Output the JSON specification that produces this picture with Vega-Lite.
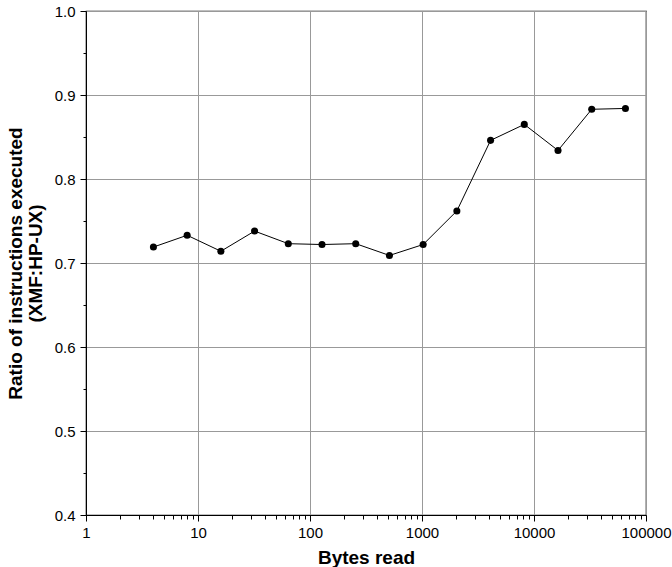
{
  "$schema": "https://vega.github.io/schema/vega-lite/v6.json",
  "autosize": "none",
  "padding": {"left": 86, "top": 11, "right": 26, "bottom": 52},
  "width": 560,
  "height": 504,
  "background": "white",
  "config": {
    "font": "Liberation Sans",
    "view": {"stroke": "black", "strokeWidth": 1.2},
    "axis": {"labelFont": "Liberation Sans", "titleFont": "Liberation Sans", "labelColor": "black", "titleColor": "black", "domainColor": "black", "tickColor": "black", "gridColor": "#999999", "gridWidth": 1, "labelFontSize": 15, "titleFontSize": 19, "titleFontWeight": "bold", "titleLineHeight": 20}
  },
  "data": {
    "values": [
      {"bytes": 4, "ratio": 0.719},
      {"bytes": 8, "ratio": 0.733},
      {"bytes": 16, "ratio": 0.714},
      {"bytes": 32, "ratio": 0.738},
      {"bytes": 64, "ratio": 0.723},
      {"bytes": 128, "ratio": 0.722},
      {"bytes": 256, "ratio": 0.723},
      {"bytes": 512, "ratio": 0.709},
      {"bytes": 1024, "ratio": 0.722},
      {"bytes": 2048, "ratio": 0.762},
      {"bytes": 4096, "ratio": 0.846},
      {"bytes": 8192, "ratio": 0.865},
      {"bytes": 16384, "ratio": 0.834},
      {"bytes": 32768, "ratio": 0.883},
      {"bytes": 65536, "ratio": 0.884}
    ]
  },
  "resolve": {"axis": {"x": "independent", "y": "independent"}},
  "layer": [
    {
      "mark": {"type": "line", "color": "black", "strokeWidth": 1},
      "encoding": {
        "x": {"field": "bytes", "type": "quantitative", "scale": {"type": "log", "domain": [1, 100000], "nice": false},
          "axis": {"orient": "bottom", "title": "Bytes read", "values": [1, 10, 100, 1000, 10000, 100000], "format": "d", "grid": true, "tickSize": 6, "labelPadding": 4, "titlePadding": 8, "labelFlush": false, "labelOverlap": false}},
        "y": {"field": "ratio", "type": "quantitative", "scale": {"domain": [0.4, 1.0], "nice": false, "zero": false},
          "axis": {"orient": "left", "title": ["Ratio of instructions executed", "(XMF:HP-UX)"], "values": [0.4, 0.5, 0.6, 0.7, 0.8, 0.9, 1.0], "format": ".1f", "grid": true, "tickSize": 6, "labelPadding": 5, "titlePadding": 9}}
      }
    },
    {
      "mark": {"type": "point", "filled": true, "color": "black", "size": 50, "opacity": 1},
      "encoding": {
        "x": {"field": "bytes", "type": "quantitative",
          "axis": {"orient": "bottom", "title": null, "labels": false, "grid": false, "domain": false, "tickSize": 4, "values": [2,3,4,5,6,7,8,9,20,30,40,50,60,70,80,90,200,300,400,500,600,700,800,900,2000,3000,4000,5000,6000,7000,8000,9000,20000,30000,40000,50000,60000,70000,80000,90000]}},
        "y": {"field": "ratio", "type": "quantitative",
          "axis": {"orient": "left", "title": null, "labels": false, "grid": false, "domain": false, "tickSize": 3, "values": [0.45, 0.55, 0.65, 0.75, 0.85, 0.95]}}
      }
    }
  ]
}
